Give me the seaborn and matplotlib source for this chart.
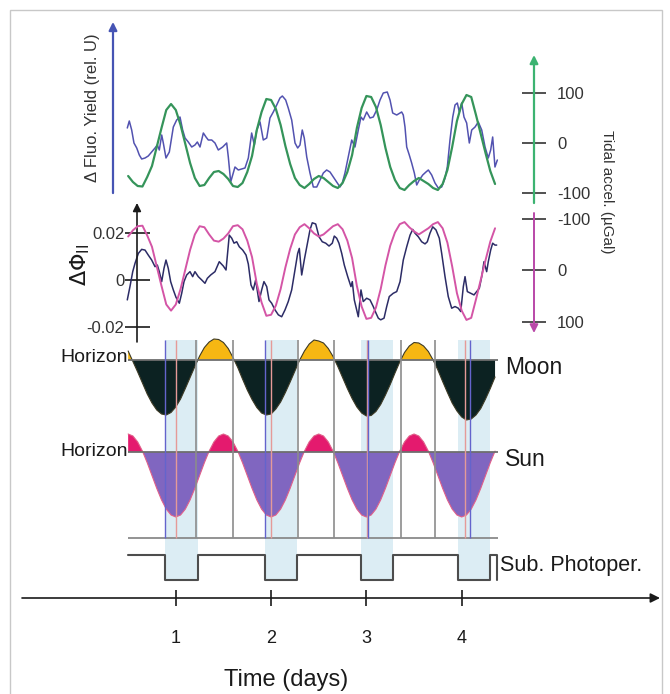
import numpy as np
import matplotlib
matplotlib.use("Agg")
import matplotlib.pyplot as plt
import seaborn as sns
from matplotlib.patches import Rectangle

sns.set_theme(style="white")
plt.rcParams["font.family"] = ["Liberation Sans", "DejaVu Sans"]

# ------------------------------------------------------------------ data
grid_days = np.round(np.arange(0.50, 4.351, 0.05), 2)   # regular 0.05-day samples

tidal_ugal = [-66, -78, -86, -87, -68, -46, -8, 30, 66, 78,
              66, 36, -2, -40, -70, -86, -84, -70, -58, -56,
              -62, -72, -86, -88, -80, -58, -26, 26, 62, 88,
              86, 68, 36, -6, -42, -70, -84, -90, -82, -72,
              -66, -70, -78, -86, -90, -80, -58, -24, 30, 70,
              94, 92, 72, 36, -10, -48, -74, -90, -94, -84,
              -76, -70, -76, -82, -90, -94, -82, -54, -8, 44,
              78, 96, 92, 56, 18, -20, -56, -82]

moon_elev = [9, -1.5, -12, -23, -34, -43, -50, -54, -55, -52.5,
             -47, -39, -28.5, -17.5, -6.5, 4, 12.5, 18, 21, 20.5,
             17.5, 11.5, 2.5, -7.5, -19, -30, -39.5, -47.5, -53, -55,
             -54, -49, -42, -32.5, -22, -11, 0, 9, 16, 20,
             19, 17, 11.5, 3.5, -6.5, -17.5, -28.5, -38.5, -47, -53,
             -56, -55.5, -51.5, -44.5, -35, -24.5, -13, -2, 7.5, 14,
             17.5, 17, 14, 8.5, 0, -10, -21.5, -32.5, -43, -51,
             -57, -60, -59, -55, -48.5, -39, -28.5, -17]

sun_elev = [18.0, 16.0, 10.1, 0.9, -10.7, -23.5, -36.3, -47.9, -57.1, -63.0,
            -65.0, -63.0, -57.1, -47.9, -36.3, -23.5, -10.7, 0.9, 10.1, 16.0,
            18.0, 16.0, 10.1, 0.9, -10.7, -23.5, -36.3, -47.9, -57.1, -63.0,
            -65.0, -63.0, -57.1, -47.9, -36.3, -23.5, -10.7, 0.9, 10.1, 16.0,
            18.0, 16.0, 10.1, 0.9, -10.7, -23.5, -36.3, -47.9, -57.1, -63.0,
            -65.0, -63.0, -57.1, -47.9, -36.3, -23.5, -10.7, 0.9, 10.1, 16.0,
            18.0, 16.0, 10.1, 0.9, -10.7, -23.5, -36.3, -47.9, -57.1, -63.0,
            -65.0, -63.0, -57.1, -47.9, -36.3, -23.5, -10.7, 0.9]

fluo_days = [0.491, 0.512, 0.537, 0.561, 0.590, 0.617, 0.642, 0.677, 0.711, 0.747,
             0.782, 0.806, 0.827, 0.852, 0.869, 0.897, 0.932, 0.974, 1.009, 1.044,
             1.072, 1.097, 1.131, 1.167, 1.201, 1.226, 1.254, 1.289, 1.317, 1.341,
             1.377, 1.411, 1.446, 1.492, 1.534, 1.551, 1.576, 1.597, 1.621, 1.656,
             1.691, 1.726, 1.761, 1.796, 1.824, 1.849, 1.884, 1.918, 1.954, 1.988,
             2.023, 2.059, 2.093, 2.118, 2.153, 2.180, 2.216, 2.251, 2.279, 2.303,
             2.327, 2.348, 2.374, 2.408, 2.443, 2.479, 2.513, 2.548, 2.583, 2.618,
             2.653, 2.688, 2.723, 2.747, 2.775, 2.810, 2.846, 2.880, 2.915, 2.943,
             2.967, 3.003, 3.038, 3.072, 3.108, 3.143, 3.177, 3.219, 3.248, 3.276,
             3.318, 3.370, 3.387, 3.405, 3.423, 3.450, 3.475, 3.503, 3.528, 3.555,
             3.591, 3.625, 3.650, 3.685, 3.720, 3.754, 3.790, 3.825, 3.849, 3.877,
             3.906, 3.930, 3.954, 3.975, 4.000, 4.024, 4.052, 4.080, 4.105, 4.140,
             4.174, 4.210, 4.245, 4.279, 4.304, 4.325, 4.349, 4.374]
fluo_rel = [0.15, 0.22, 0.13, 0.00, -0.05, -0.12, -0.16, -0.15, -0.13, -0.09,
            -0.05, -0.02, -0.07, 0.08, 0.00, -0.15, -0.09, 0.16, 0.23, 0.26,
            0.13, 0.05, 0.01, -0.04, -0.02, 0.01, -0.04, 0.10, 0.06, 0.03,
            0.03, 0.00, -0.07, -0.04, 0.00, -0.14, -0.39, -0.32, -0.24, -0.27,
            -0.26, -0.25, -0.15, 0.10, -0.02, 0.13, 0.21, 0.03, 0.05, 0.25,
            0.31, 0.38, 0.45, 0.47, 0.43, 0.35, 0.23, 0.00, -0.05, -0.02,
            0.13, 0.05, -0.14, -0.30, -0.44, -0.44, -0.37, -0.30, -0.27, -0.29,
            -0.34, -0.39, -0.44, -0.40, -0.30, -0.14, 0.03, -0.04, 0.13, 0.26,
            0.23, 0.31, 0.25, 0.26, 0.33, 0.43, 0.50, 0.51, 0.43, 0.30,
            0.28, 0.31, 0.28, 0.16, -0.04, -0.12, -0.20, -0.30, -0.42, -0.37,
            -0.32, -0.29, -0.27, -0.32, -0.40, -0.45, -0.44, -0.35, -0.24, 0.03,
            0.26, 0.38, 0.40, 0.31, 0.40, 0.26, 0.20, 0.00, 0.13, 0.16,
            0.21, 0.13, -0.04, -0.15, -0.07, 0.06, -0.24, -0.17]

phi_days = [0.491, 0.519, 0.548, 0.572, 0.607, 0.642, 0.677, 0.711, 0.747, 0.782,
            0.806, 0.827, 0.852, 0.876, 0.897, 0.921, 0.946, 0.974, 1.002, 1.037,
            1.062, 1.086, 1.114, 1.149, 1.177, 1.201, 1.236, 1.272, 1.306, 1.331,
            1.366, 1.411, 1.456, 1.498, 1.527, 1.540, 1.561, 1.587, 1.611, 1.639,
            1.666, 1.702, 1.737, 1.761, 1.789, 1.813, 1.838, 1.859, 1.873, 1.901,
            1.925, 1.954, 1.978, 2.006, 2.041, 2.076, 2.111, 2.146, 2.180, 2.216,
            2.251, 2.279, 2.296, 2.321, 2.348, 2.374, 2.408, 2.432, 2.468, 2.503,
            2.537, 2.573, 2.608, 2.642, 2.663, 2.688, 2.712, 2.741, 2.768, 2.804,
            2.838, 2.852, 2.873, 2.898, 2.915, 2.943, 2.967, 3.003, 3.038, 3.072,
            3.101, 3.125, 3.150, 3.185, 3.213, 3.240, 3.282, 3.318, 3.353, 3.387,
            3.423, 3.458, 3.486, 3.510, 3.545, 3.580, 3.615, 3.639, 3.667, 3.696,
            3.730, 3.765, 3.790, 3.825, 3.859, 3.895, 3.930, 3.964, 3.990, 4.017,
            4.035, 4.059, 4.094, 4.129, 4.157, 4.185, 4.210, 4.234, 4.262, 4.279,
            4.304, 4.325, 4.349, 4.367]
phi_ii = [-0.0084, -0.0028, 0.0035, 0.0070, 0.0112, 0.0129, 0.0126, 0.0105, 0.0084, 0.0056,
          0.0063, 0.0035, -0.0007, 0.0049, 0.0084, 0.0049, -0.0007, -0.0042, -0.0073, -0.0098,
          -0.0056, -0.0007, 0.0021, 0.0035, 0.0014, 0.0035, 0.0014, 0.0000, -0.0014, 0.0007,
          0.0021, 0.0035, 0.0077, 0.0059, 0.0042, 0.0098, 0.0189, 0.0176, 0.0155, 0.0161,
          0.0140, 0.0126, 0.0105, 0.0067, -0.0021, -0.0042, 0.0000, -0.0056, -0.0091, -0.0042,
          -0.0007, -0.0028, -0.0084, -0.0098, -0.0126, -0.0147, -0.0155, -0.0126, -0.0091, -0.0042,
          0.0042, 0.0112, 0.0133, 0.0021, 0.0084, 0.0140, 0.0211, 0.0241, 0.0236, 0.0182,
          0.0161, 0.0155, 0.0143, 0.0155, 0.0185, 0.0176, 0.0155, 0.0112, 0.0063, 0.0014,
          -0.0028, -0.0007, -0.0084, -0.0126, -0.0155, -0.0042, -0.0091, -0.0077, -0.0084, -0.0112,
          -0.0140, -0.0161, -0.0168, -0.0161, -0.0112, -0.0070, -0.0056, -0.0049, -0.0007, 0.0084,
          0.0140, 0.0189, 0.0213, 0.0197, 0.0182, 0.0161, 0.0152, 0.0161, 0.0197, 0.0224,
          0.0211, 0.0176, 0.0112, 0.0014, -0.0070, -0.0119, -0.0112, -0.0119, -0.0133, -0.0028,
          0.0014, -0.0049, -0.0056, -0.0063, -0.0049, -0.0035, 0.0014, 0.0077, 0.0035, 0.0077,
          0.0126, 0.0155, 0.0147, 0.0147]

band_start = [0.887, 1.936, 2.944, 3.961]          # subjective dark periods
band_end = [1.233, 2.272, 3.279, 4.297]
moon_trough_days = [0.887, 1.936, 3.012, 4.087]     # blue markers
sun_trough_days = [1.002, 1.999, 3.002, 4.035]      # red markers
moon_horizon_days = [1.212, 1.600, 2.282, 2.660, 3.363, 3.720]  # grey markers
photo_days = [0.50, 0.887, 1.233, 1.936, 2.272, 2.944, 3.279, 3.961, 4.297, 4.37]
photo_light = [1, 0, 1, 0, 1, 0, 1, 0, 1, 0]
day_ticks = [1, 2, 3, 4]
day_labels = ["1", "2", "3", "4"]
tidal_ticks = [-100, 0, 100]
phi_ticks = [-0.02, 0, 0.02]
phi_ticklabels = ["-0.02", "0", "0.02"]

# ------------------------------------------------------------------ layout
W, H = 670, 694
X0, PXD = 80.5, 95.3          # pixel of day 0, pixels per day


def fx(px):
    return px / W


def fy(py):
    return 1 - py / H


def xl(p0, p1):
    return ((p0 - X0) / PXD, (p1 - X0) / PXD)


fig = plt.figure(figsize=(W / 100, H / 100), dpi=100)
fig.patch.set_facecolor("white")

# ---------------- lower panel (moon / sun / photoperiod / time axis)
LOW_TOP, LOW_BOT = 330, 598
ax_low = fig.add_axes([fx(22), fy(LOW_BOT), (660 - 22) / W, (LOW_BOT - LOW_TOP) / H])
ax_low.set_facecolor("none")
ax_low.set_xlim(*xl(22, 660))
YMAX = LOW_BOT - LOW_TOP
ax_low.set_ylim(0, YMAX)
MOON_BASE, SUN_BASE, LINE_Y = 238, 146, 60
PHOTO_HI, PHOTO_LO, BAND_TOP = 43, 18, 258
for s in ax_low.spines.values():
    s.set_visible(False)

for s, e in zip(band_start, band_end):
    ax_low.axvspan(s, e, ymin=PHOTO_LO / YMAX, ymax=BAND_TOP / YMAX,
                   color="#dcedf4", lw=0, zorder=0.5)

moon = np.array(moon_elev)
sun = np.array(sun_elev)
ax_low.fill_between(grid_days, MOON_BASE, MOON_BASE + moon, where=moon >= 0,
                    interpolate=True, color="#f6b713", lw=0, zorder=2)
ax_low.fill_between(grid_days, MOON_BASE, MOON_BASE + moon, where=moon <= 0,
                    interpolate=True, color="#0c2222", lw=0, zorder=2)
sns.lineplot(x=grid_days, y=MOON_BASE + moon, ax=ax_low, color="#3d3a25", lw=0.8, zorder=2.5)
ax_low.fill_between(grid_days, SUN_BASE, SUN_BASE + sun, where=sun >= 0,
                    interpolate=True, color="#e41a6e", lw=0, zorder=2)
ax_low.fill_between(grid_days, SUN_BASE, SUN_BASE + sun, where=sun <= 0,
                    interpolate=True, color="#8066c0", lw=0, zorder=2)
sns.lineplot(x=grid_days, y=SUN_BASE + sun, ax=ax_low, color="#e0608a", lw=0.8, zorder=2.5)

ax_low.hlines([MOON_BASE, SUN_BASE], 0.50, 4.38, color="#6e6e6e", lw=1.3, zorder=3)
ax_low.hlines(LINE_Y, 0.50, 4.38, color="#8a8a8a", lw=1.3, zorder=3)
ax_low.vlines(moon_horizon_days, LINE_Y, BAND_TOP, color="#8c8c8c", lw=1.2, zorder=4)
ax_low.vlines(sun_trough_days, LINE_Y, BAND_TOP, color="#e59a98", lw=1.0, zorder=4)
ax_low.vlines(moon_trough_days, LINE_Y, BAND_TOP, color="#6464cc", lw=1.0, zorder=4)

photo_y = PHOTO_LO + (PHOTO_HI - PHOTO_LO) * np.array(photo_light)
ax_low.step(photo_days, photo_y, where="post", color="#4d4d4d", lw=1.5, zorder=4)

ax_low.annotate("", xy=(1, 0), xytext=(0, 0), xycoords="axes fraction",
                arrowprops=dict(arrowstyle="-|>", color="#1a1a1a", lw=1.2,
                                mutation_scale=14, shrinkA=0, shrinkB=0),
                annotation_clip=False)
ax_low.set_xticks(day_ticks)
ax_low.set_xticklabels(day_labels)
ax_low.set_yticks([])
ax_low.tick_params(axis="x", bottom=True, direction="inout", length=12, width=1.2,
                   color="#1a1a1a", labelsize=13, pad=17, labelcolor="#1a1a1a")
ax_low.set_xlabel("")

# ---------------- middle panel (delta PhiII vs tide, inverted)
ax_mid = fig.add_axes([fx(137), fy(340), (534 - 137) / W, 140 / H])
ax_mid.set_facecolor("none")
ax_mid.set_xlim(*xl(137, 534))
ax_mid.set_ylim(-0.0253, 0.0337)
for s in ax_mid.spines.values():
    s.set_visible(False)
ax_mid_r = ax_mid.twinx()
ax_mid_r.set_facecolor("none")
for s in ax_mid_r.spines.values():
    s.set_visible(False)
ax_mid_r.set_ylim(135.0, -136.9)

sns.lineplot(x=grid_days, y=tidal_ugal, ax=ax_mid_r, color="#d455a6", lw=1.4, clip_on=False)
sns.lineplot(x=phi_days, y=phi_ii, ax=ax_mid, color="#2c2c66", lw=1.1, clip_on=False)

ax_mid.annotate("", xy=(0, 0.979), xytext=(0, -0.014), xycoords="axes fraction",
                arrowprops=dict(arrowstyle="-|>", color="#1a1a1a", lw=1.2,
                                mutation_scale=12, shrinkA=0, shrinkB=0),
                annotation_clip=False)
ax_mid_r.annotate("", xy=(1, 0.05), xytext=(1, 0.907), xycoords="axes fraction",
                  arrowprops=dict(arrowstyle="-|>", color="#b948a8", lw=1.4,
                                  mutation_scale=12, shrinkA=0, shrinkB=0),
                  annotation_clip=False)
ax_mid.set_yticks(phi_ticks)
ax_mid.set_yticklabels(phi_ticklabels)
ax_mid.set_xticks([])
ax_mid.tick_params(axis="y", left=True, direction="inout", length=18, width=1.2,
                   color="#1a1a1a", labelsize=12, pad=0, labelcolor="#333333")
ax_mid_r.set_yticks(tidal_ticks)
ax_mid_r.set_yticklabels([str(t) for t in tidal_ticks])
ax_mid_r.tick_params(axis="y", right=True, left=False, direction="inout", length=17,
                     width=1.2, color="#333333", labelsize=12, pad=8, labelcolor="#333333")
ax_mid.set_xlabel("")
ax_mid.set_ylabel("")
ax_mid_r.set_ylabel("")

# ---------------- top panel (fluorescence vs tide)
ax_top = fig.add_axes([fx(113), fy(195), (534 - 113) / W, 175 / H])
ax_top.set_facecolor("none")
ax_top.set_xlim(*xl(113, 534))
ax_top.set_ylim(-0.52, 1.23)
for s in ax_top.spines.values():
    s.set_visible(False)
ax_top_r = ax_top.twinx()
ax_top_r.set_facecolor("none")
for s in ax_top_r.spines.values():
    s.set_visible(False)
ax_top_r.set_ylim(-104, 246)

sns.lineplot(x=grid_days, y=tidal_ugal, ax=ax_top_r, color="#35945a", lw=1.6, clip_on=False)
sns.lineplot(x=fluo_days, y=fluo_rel, ax=ax_top, color="#5252b0", lw=1.1, clip_on=False)

ax_top.annotate("", xy=(0, 0.989), xytext=(0, 0.011), xycoords="axes fraction",
                arrowprops=dict(arrowstyle="-|>", color="#4654b4", lw=1.6,
                                mutation_scale=12, shrinkA=0, shrinkB=0),
                annotation_clip=False)
ax_top_r.annotate("", xy=(1, 0.80), xytext=(1, -0.046), xycoords="axes fraction",
                  arrowprops=dict(arrowstyle="-|>", color="#3cb371", lw=1.6,
                                  mutation_scale=12, shrinkA=0, shrinkB=0),
                  annotation_clip=False)
ax_top.set_yticks([])
ax_top.set_xticks([])
ax_top_r.set_yticks(tidal_ticks)
ax_top_r.set_yticklabels([str(t) for t in tidal_ticks])
ax_top_r.tick_params(axis="y", right=True, left=False, direction="inout", length=17,
                     width=1.2, color="#333333", labelsize=12, pad=8, labelcolor="#333333")
ax_top.set_ylabel("")
ax_top_r.set_ylabel("")

# ---------------- text
fig.text(fx(92), fy(108), "\u0394 Fluo. Yield (rel. U)", rotation=90, ha="center",
         va="center", fontsize=12, color="#333333")
fig.text(fx(607), fy(192), "Tidal accel. (\u00b5Gal)", rotation=270, ha="center",
         va="center", fontsize=11, color="#333333")
fig.text(fx(80), fy(265), r"$\Delta\Phi_{\rm II}$", rotation=90, ha="center",
         va="center", fontsize=16, color="#1a1a1a")
fig.text(fx(60), fy(358), "Horizon", ha="left", va="center", fontsize=14, color="#1a1a1a")
fig.text(fx(60), fy(452), "Horizon", ha="left", va="center", fontsize=14, color="#1a1a1a")
fig.text(fx(505), fy(368), "Moon", ha="left", va="center", fontsize=16.5, color="#1a1a1a")
fig.text(fx(505), fy(460), "Sun", ha="left", va="center", fontsize=16.5, color="#1a1a1a")
fig.text(fx(500), fy(566), "Sub. Photoper.", ha="left", va="center", fontsize=15.5,
         color="#1a1a1a")
fig.text(fx(286), fy(680), "Time (days)", ha="center", va="center", fontsize=17,
         color="#1a1a1a")

fig.patches.append(Rectangle((fx(10), fy(700)), (662 - 10) / W, 690 / H,
                             transform=fig.transFigure, fill=False,
                             edgecolor="#c8c8c8", lw=1.0))

fig.savefig("out.png", dpi=100)
